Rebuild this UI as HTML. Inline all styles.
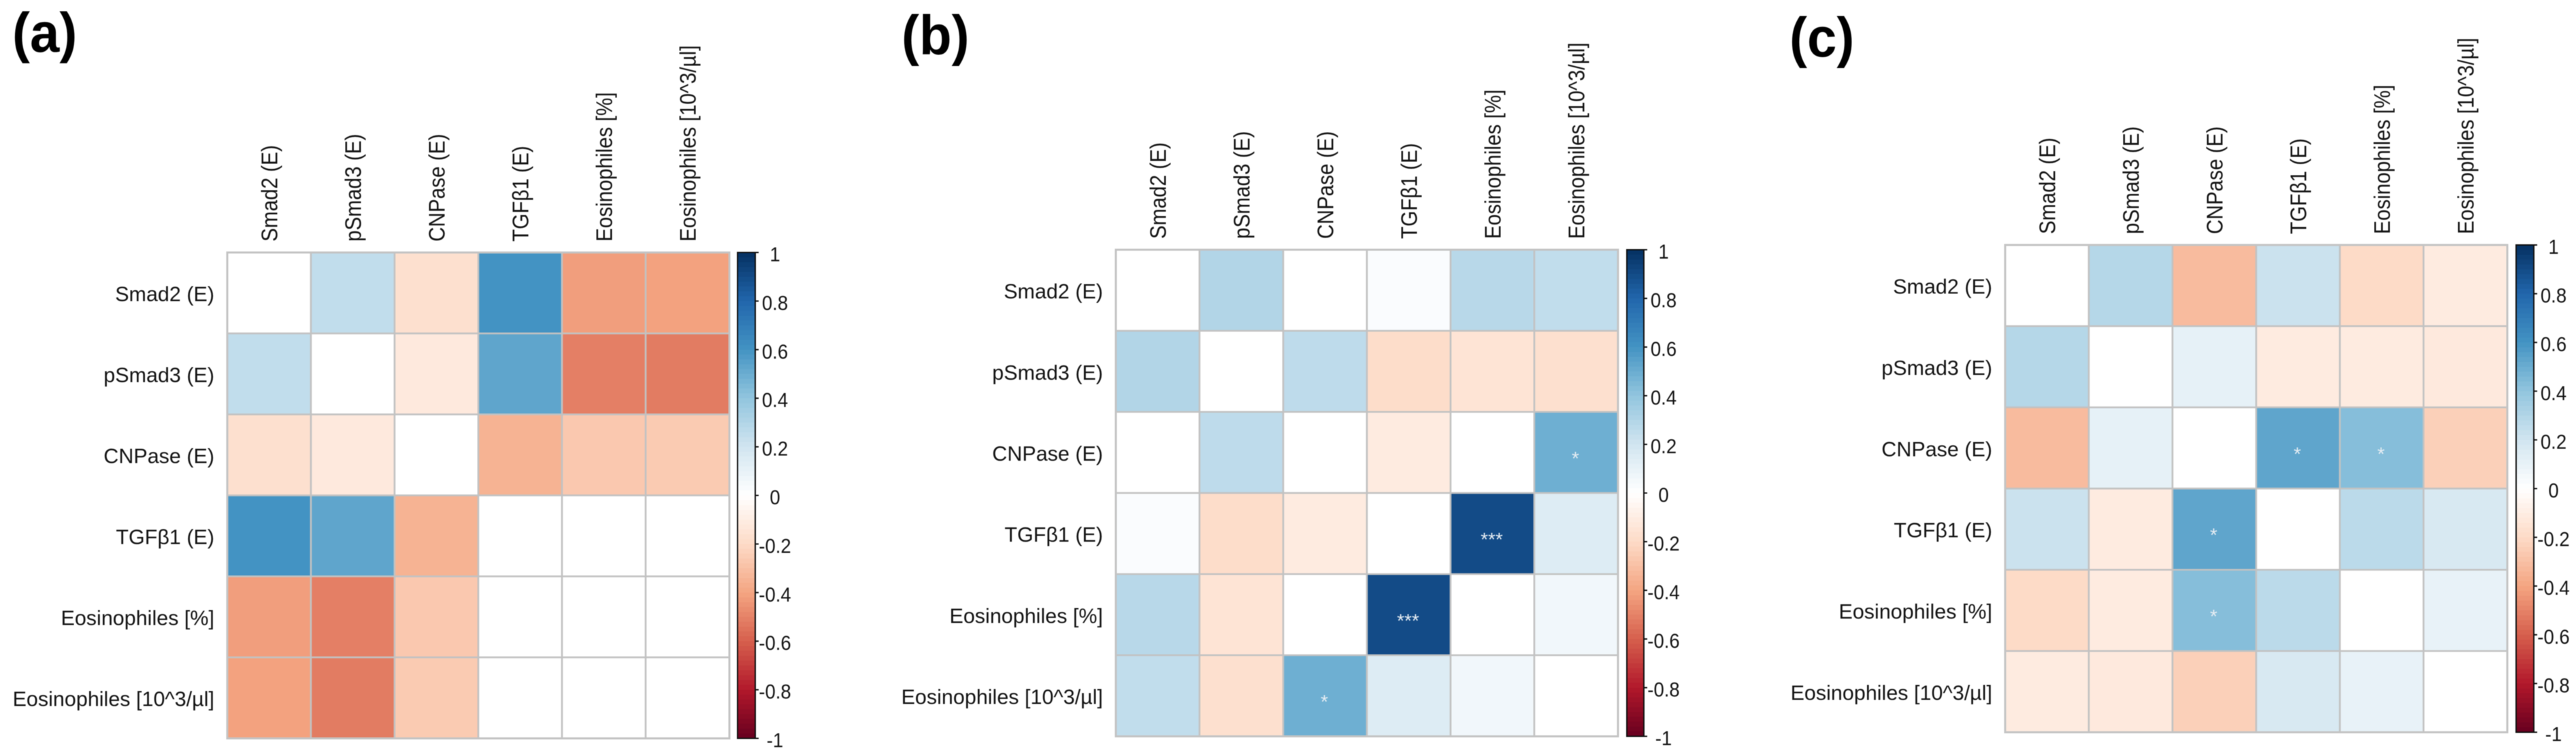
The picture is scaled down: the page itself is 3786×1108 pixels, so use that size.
<!DOCTYPE html>
<html lang="en">
<head>
<meta charset="utf-8">
<title>Correlation matrices (a), (b), (c)</title>
<style>
html,body{margin:0;padding:0;background:#fff;width:3786px;height:1108px;overflow:hidden}
svg{display:block;filter:blur(0.5px)}
text{font-family:"Liberation Sans",Arial,sans-serif;fill:#141414}
</style>
</head>
<body>
<svg id="figure" xmlns="http://www.w3.org/2000/svg" width="3786" height="1108" viewBox="0 0 3786 1108"></svg>
<script>
const variables = ['Smad2 (E)', 'pSmad3 (E)', 'CNPase (E)', 'TGFβ1 (E)', 'Eosinophiles [%]', 'Eosinophiles [10^3/µl]'];
const colorbarTicks = [1, 0.8, 0.6, 0.4, 0.2, 0, -0.2, -0.4, -0.6, -0.8, -1];
const paletteColors = ['#67001F', '#B2182B', '#D6604D', '#F4A582', '#FDDBC7', '#FFFFFF', '#D1E5F0', '#92C5DE', '#4393C3', '#2166AC', '#053061'];

const valuesA = [
  [0, 0.25, -0.17, 0.60, -0.42, -0.41],
  [0.25, 0, -0.12, 0.53, -0.51, -0.52],
  [-0.17, -0.12, 0, -0.35, -0.27, -0.26],
  [0.60, 0.53, -0.35, 0, 0, 0],
  [-0.42, -0.51, -0.27, 0, 0, 0],
  [-0.41, -0.52, -0.26, 0, 0, 0]
];
const starsA = [
  ['', '', '', '', '', ''],
  ['', '', '', '', '', ''],
  ['', '', '', '', '', ''],
  ['', '', '', '', '', ''],
  ['', '', '', '', '', ''],
  ['', '', '', '', '', '']
];
const valuesB = [
  [0, 0.30, 0, 0.02, 0.28, 0.25],
  [0.30, 0, 0.26, -0.19, -0.15, -0.17],
  [0, 0.26, 0, -0.11, 0, 0.49],
  [0.02, -0.19, -0.11, 0, 0.90, 0.15],
  [0.28, -0.15, 0, 0.90, 0, 0.06],
  [0.25, -0.17, 0.49, 0.15, 0.06, 0]
];
const starsB = [
  ['', '', '', '', '', ''],
  ['', '', '', '', '', ''],
  ['', '', '', '', '', '*'],
  ['', '', '', '', '***', ''],
  ['', '', '', '***', '', ''],
  ['', '', '*', '', '', '']
];
const valuesC = [
  [0, 0.29, -0.32, 0.22, -0.20, -0.11],
  [0.29, 0, 0.11, -0.11, -0.11, -0.12],
  [-0.32, 0.11, 0, 0.53, 0.43, -0.24],
  [0.22, -0.11, 0.53, 0, 0.27, 0.17],
  [-0.20, -0.11, 0.43, 0.27, 0, 0.10],
  [-0.11, -0.12, -0.24, 0.17, 0.10, 0]
];
const starsC = [
  ['', '', '', '', '', ''],
  ['', '', '', '', '', ''],
  ['', '', '', '*', '*', ''],
  ['', '', '*', '', '', ''],
  ['', '', '*', '', '', ''],
  ['', '', '', '', '', '']
];

const panels = [
  {key: 'a', title: '(a)', titleX: 18, titleY: 76, left: 334, right: 1072, top: 371, bottom: 1085, barLeft: 1084, barRight: 1110, values: valuesA, stars: starsA},
  {key: 'b', title: '(b)', titleX: 1325, titleY: 80, left: 1640, right: 2378, top: 367, bottom: 1082, barLeft: 2391, barRight: 2416, values: valuesB, stars: starsB},
  {key: 'c', title: '(c)', titleX: 2630, titleY: 83, left: 2947, right: 3685, top: 360, bottom: 1076, barLeft: 3698, barRight: 3724, values: valuesC, stars: starsC}
];

const SVG_NS = 'http://www.w3.org/2000/svg';
const figure = document.getElementById('figure');

function make(tag, attrs, parent, content) {
  const node = document.createElementNS(SVG_NS, tag);
  for (const k in attrs) node.setAttribute(k, attrs[k]);
  if (content !== undefined) node.textContent = content;
  parent.appendChild(node);
  return node;
}
function colorFor(v) {
  const t = (Math.max(-1, Math.min(1, v)) + 1) / 2 * (paletteColors.length - 1);
  const i = Math.min(Math.floor(t), paletteColors.length - 2);
  const f = t - i;
  const parse = h => [1, 3, 5].map(p => parseInt(h.slice(p, p + 2), 16));
  const a = parse(paletteColors[i]);
  const b = parse(paletteColors[i + 1]);
  return 'rgb(' + a.map((c, n) => Math.round(c + (b[n] - c) * f)).join(',') + ')';
}
function slug(s) {
  return s.toLowerCase().replace(/[^a-z0-9]+/g, '-').replace(/^-|-$/g, '');
}

panels.forEach(function (p) {
  const n = variables.length;
  const cw = (p.right - p.left) / n;
  const ch = (p.bottom - p.top) / n;
  const xPos = c => p.left + c * cw;
  const yPos = r => p.top + r * ch;
  const barY = v => p.top + (1 - v) / 2 * (p.bottom - p.top);

  const group = make('g', {}, figure);
  
  

  const title = make('text', {transform: 'translate(' + p.titleX + ',' + p.titleY + ') scale(1,1.05)', 'font-size': 78, 'font-weight': 700, style: 'fill:#000'}, group, p.title);
  
  

  // heatmap cells
  p.values.forEach(function (row, r) {
    row.forEach(function (v, c) {
      const cell = make('rect', {x: xPos(c), y: yPos(r), width: cw, height: ch, fill: colorFor(v), stroke: '#c2c2c2', 'stroke-width': 2.5}, group);
      
      
    });
  });

  // significance stars
  p.stars.forEach(function (row, r) {
    row.forEach(function (s, c) {
      if (!s) return;
      const star = make('text', {x: xPos(c) + cw / 2 - 1, y: yPos(r) + ch / 2 + 18, 'font-size': 28, 'text-anchor': 'middle', style: 'fill:#e6edf3'}, group, s);
      
      
    });
  });

  const frame = make('rect', {x: p.left, y: p.top, width: p.right - p.left, height: p.bottom - p.top, fill: 'none', stroke: '#c4c4c4', 'stroke-width': 3}, group);
  
  

  // row labels
  variables.forEach(function (name, r) {
    const label = make('text', {x: p.left - 19, y: yPos(r) + ch / 2 + 12, 'font-size': 30.5, 'text-anchor': 'end'}, group, name);
    
    
  });

  // column labels
  variables.forEach(function (name, c) {
    const tx = xPos(c) + cw / 2 + 12;
    const ty = p.top - 16;
    const label = make('text', {transform: 'translate(' + tx + ',' + ty + ') rotate(-90) scale(1,1.12)', x: 0, y: 0, 'font-size': 29.7}, group, name);
    
    
  });

  // colour bar
  const bar = make('g', {}, group);
  
  
  const steps = 100;
  for (let i = 0; i < steps; i++) {
    const vTop = 1 - 2 * i / steps;
    const vBottom = 1 - 2 * (i + 1) / steps;
    const slice = make('rect', {x: p.barLeft, y: barY(vTop), width: p.barRight - p.barLeft, height: barY(vBottom) - barY(vTop) + 0.5, fill: colorFor((vTop + vBottom) / 2)}, bar);
    
    
  }
  const border = make('rect', {x: p.barLeft, y: p.top, width: p.barRight - p.barLeft, height: p.bottom - p.top, fill: 'none', stroke: '#111', 'stroke-width': 2}, bar);
  
  

  colorbarTicks.forEach(function (t) {
    const y = barY(t);
    const tick = make('line', {x1: p.barRight, x2: p.barRight + 5, y1: y, y2: y, stroke: '#111', 'stroke-width': 2}, bar);
    
    
    const tx = p.barRight + 29;
    const ty = y + 13;
    const lab = make('text', {transform: 'translate(' + tx + ',' + ty + ') scale(1,1.08)', 'font-size': 27.5, 'text-anchor': 'middle'}, bar, String(t));
    
    
  });
});
</script>
</body>
</html>
